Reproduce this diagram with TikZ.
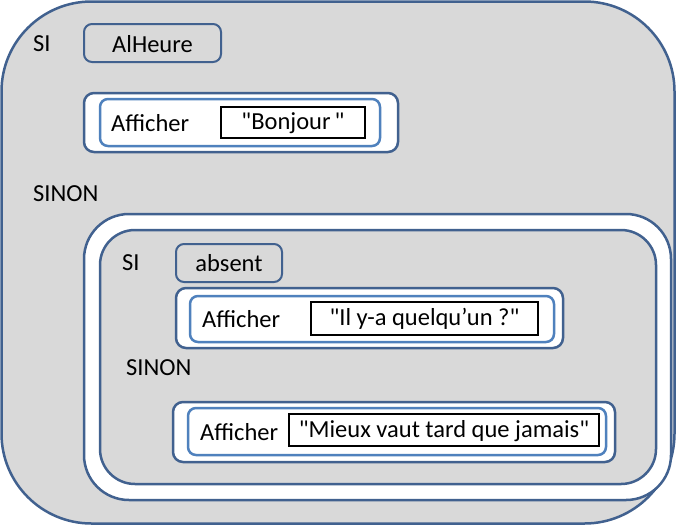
\documentclass[tikz,border=0pt]{standalone}
\usepackage{fontspec}
\setmainfont{Carlito}[Ligatures=TeXOff]
\definecolor{dkb}{HTML}{41618F}
\definecolor{ltb}{HTML}{4F81BD}
\definecolor{gr}{HTML}{D9D9D9}
\newcommand{\dq}{"}
\tikzset{
  outerbox/.style={draw=dkb,line width=2.5pt,fill=white},
  innerbox/.style={draw=ltb,line width=2.5pt},
  condbox/.style={draw=dkb,line width=2pt,rounded corners=8pt},
  valbox/.style={draw=black,line width=2.5pt},
  txt/.style={font=\fontsize{24.5}{27}\selectfont,inner sep=0pt},
}
\begin{document}
\begin{tikzpicture}[x=1pt,y=-1pt]
\useasboundingbox (0,0) rectangle (676,525);
\draw[draw=dkb,line width=2.5pt,fill=gr,rounded corners=90pt] (1.5,1.5) rectangle (674.5,523.5);
\node[txt,anchor=west] (si1) at (33,44) {SI};
\draw[condbox] (84,24) rectangle (221,62);
\node[txt] (c1) at (152.5,44) {AlHeure};
\draw[outerbox,rounded corners=10pt] (84,93) rectangle (398,152);
\draw[innerbox,rounded corners=8pt] (100,99) rectangle (380,146);
\node[txt,anchor=west] (a1) at (111,123) {Afficher};
\draw[valbox] (221,107) rectangle (365,138);
\node[txt] (v1) at (293,123) {\dq Bonjour\,\dq};
\node[txt,anchor=west] (sinon1) at (33,194) {SINON};
\draw[outerbox,rounded corners=45pt] (84,214) rectangle (671,500);
\draw[draw=dkb,line width=2.5pt,fill=gr,rounded corners=35pt] (100,230) rectangle (656,484);
\node[txt,anchor=west] (si2) at (122,263) {SI};
\draw[condbox] (176,244) rectangle (282,282);
\node[txt] (c2) at (229,263) {absent};
\draw[outerbox,rounded corners=10pt] (176,288) rectangle (563,348);
\draw[innerbox,rounded corners=8pt] (190,296) rectangle (554,342);
\node[txt,anchor=west] (a2) at (202,319) {Afficher};
\draw[valbox] (311,302) rectangle (538,335);
\node[txt] (v2) at (424.5,319) {\dq Il y-a quelqu’un ?\dq};
\node[txt,anchor=west] (sinon2) at (126,368) {SINON};
\draw[outerbox,rounded corners=10pt] (173,402) rectangle (615,462);
\draw[innerbox,rounded corners=8pt] (188,408) rectangle (606,455);
\node[txt,anchor=west] (a3) at (200,432) {Afficher};
\draw[valbox] (289,414) rectangle (599,446);
\node[txt] (v3) at (444,431) {\dq Mieux vaut tard que jamais\dq};
\end{tikzpicture}
\end{document}
